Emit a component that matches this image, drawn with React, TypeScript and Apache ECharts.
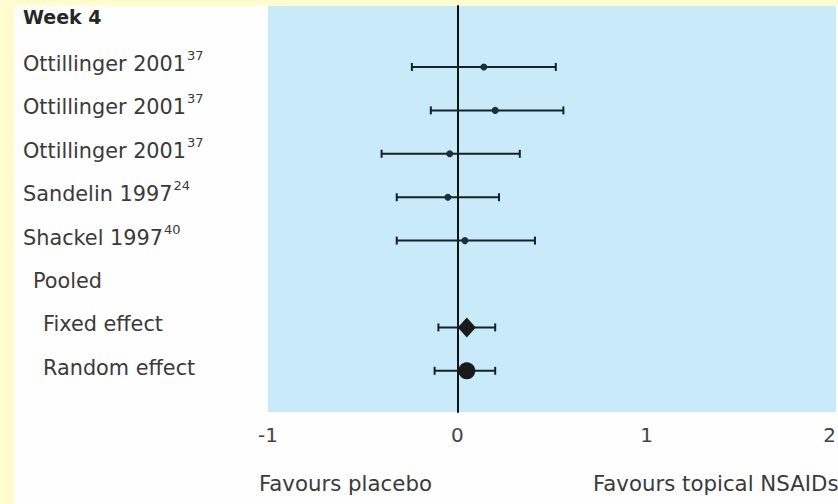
import React, { useEffect, useRef } from "react";
import * as echarts from "echarts";

const rowLabels = [
  "Week 4",
  "Ottillinger 2001",
  "Ottillinger 2001",
  "Ottillinger 2001",
  "Sandelin 1997",
  "Shackel 1997",
  "Pooled",
  "Fixed effect",
  "Random effect",
];
const rowRefs = ["", "37", "37", "37", "24", "40", "", "", ""];
const rowKinds = ["header", "study", "study", "study", "study", "study", "group", "sub", "sub"];

const estimates = [null, 0.14, 0.2, -0.04, -0.05, 0.04, null, 0.05, 0.05];
const lowerCI = [null, -0.24, -0.14, -0.4, -0.32, -0.32, null, -0.1, -0.12];
const upperCI = [null, 0.52, 0.56, 0.33, 0.22, 0.41, null, 0.2, 0.2];

const xTicks = [-1, 0, 1, 2];
const favoursLeft = "Favours placebo";
const favoursRight = "Favours topical NSAIDs";

const FONT = "'DejaVu Sans', 'Liberation Sans', sans-serif";
const TEXT = "#3a3a3a";

export default function App() {
  const ref = useRef<HTMLDivElement>(null);
  useEffect(() => {
    if (!ref.current) return;
    const chart = echarts.init(ref.current, undefined, { renderer: "svg" });

    const barData: any[] = [];
    const studyPts: any[] = [];
    const fixedPts: any[] = [];
    const randomPts: any[] = [];
    rowLabels.forEach((_, i) => {
      if (estimates[i] == null) return;
      barData.push([lowerCI[i], upperCI[i], i]);
      if (rowKinds[i] === "study") studyPts.push([estimates[i], i]);
      else if (rowLabels[i] === "Fixed effect") fixedPts.push([estimates[i], i]);
      else randomPts.push([estimates[i], i]);
    });

    const styleFor = (k: string) =>
      k === "header" ? "h" : k === "group" ? "g" : k === "sub" ? "f" : "s";

    const base = { fontFamily: FONT, fontSize: 20.8, color: TEXT, lineHeight: 22 };

    chart.setOption({
      animation: false,
      backgroundColor: "transparent",
      grid: [
        { left: 268, right: 2, top: 6, bottom: 92, show: true, backgroundColor: "#c8eaf9", borderWidth: 0, outerBoundsMode: "none", containLabel: false },
        { left: 268, right: 2, top: 1.9, height: 390.6, show: false, outerBoundsMode: "none", containLabel: false },
      ],
      xAxis: [
        {
          gridIndex: 0,
          type: "value",
          min: xTicks[0],
          max: xTicks[xTicks.length - 1],
          interval: 1,
          axisLine: { show: false },
          axisTick: { show: false },
          splitLine: { show: false },
          axisLabel: {
            show: true,
            margin: 13,
            fontSize: 20,
            fontFamily: FONT,
            color: "#444",
            showMaxLabel: true,
            showMinLabel: true,
            hideOverlap: false,
            alignMaxLabel: "right",
          },
        },
        {
          gridIndex: 1,
          type: "value",
          min: xTicks[0],
          max: xTicks[xTicks.length - 1],
          show: false,
        },
      ],
      yAxis: [
        {
          gridIndex: 0,
          type: "value",
          min: 0,
          max: 1,
          axisLabel: { show: false },
          axisTick: { show: false },
          splitLine: { show: false },
          axisLine: { show: true, onZero: true, lineStyle: { color: "#111", width: 2 } },
        },
        {
          gridIndex: 1,
          type: "category",
          inverse: true,
          data: rowLabels,
          axisLine: { show: false },
          axisTick: { show: false },
          splitLine: { show: false },
          axisLabel: {
            interval: 0,
            align: "left",
            margin: 245,
            padding: [0, 0, 6, 0],
            formatter: (_v: string, idx: number) => {
              const st = styleFor(rowKinds[idx]);
              const sup = rowRefs[idx] ? rowRefs[idx] : " ";
              return `{${st}|${rowLabels[idx]}}{sup|${sup}}`;
            },
            rich: {
              h: { ...base, fontSize: 19, fontWeight: "bold", color: "#262626", padding: [0, 0, 7, 0] },
              s: { ...base },
              g: { ...base, padding: [0, 0, 0, 10] },
              f: { ...base, padding: [0, 0, 0, 20] },
              sup: { fontFamily: FONT, fontSize: 13, color: TEXT, lineHeight: 22, padding: [0, 0, 17, 1] },
            },
          },
        },
      ],
      series: [
        {
          type: "custom",
          xAxisIndex: 1,
          yAxisIndex: 1,
          data: barData,
          encode: { x: [0, 1], y: 2 },
          renderItem: (params: any, api: any) => {
            const a = api.coord([api.value(0), api.value(2)]);
            const b = api.coord([api.value(1), api.value(2)]);
            const st = { stroke: "#14222a", lineWidth: 2 };
            const cap = 4;
            return {
              type: "group",
              children: [
                { type: "line", shape: { x1: a[0], y1: a[1], x2: b[0], y2: b[1] }, style: st },
                { type: "line", shape: { x1: a[0], y1: a[1] - cap, x2: a[0], y2: a[1] + cap }, style: st },
                { type: "line", shape: { x1: b[0], y1: b[1] - cap, x2: b[0], y2: b[1] + cap }, style: st },
              ],
            };
          },
          z: 3,
        },
        {
          type: "scatter",
          xAxisIndex: 1,
          yAxisIndex: 1,
          data: studyPts,
          symbol: "circle",
          symbolSize: 7,
          itemStyle: { color: "#1c3038", opacity: 1 },
          z: 4,
        },
        {
          type: "scatter",
          xAxisIndex: 1,
          yAxisIndex: 1,
          data: fixedPts,
          symbol: "diamond",
          symbolSize: [18, 20],
          itemStyle: { color: "#1a1a1a", opacity: 1 },
          z: 4,
        },
        {
          type: "scatter",
          xAxisIndex: 1,
          yAxisIndex: 1,
          data: randomPts,
          symbol: "circle",
          symbolSize: 17,
          itemStyle: { color: "#1a1a1a", opacity: 1 },
          z: 4,
        },
      ],
      graphic: [
        { type: "text", left: 259, top: 473, z: 100, style: { text: favoursLeft, font: `21.3px ${FONT}`, fill: TEXT } },
        { type: "text", left: 593, top: 473, z: 100, style: { text: favoursRight, font: `21.3px ${FONT}`, fill: TEXT } },
      ],
    });
    return () => chart.dispose();
  }, []);

  return (
    <div style={{ position: "fixed", left: 0, top: 0, width: 838, height: 504, background: "#fffcd0", overflow: "hidden" }}>
      <div style={{ position: "absolute", left: 14, top: 6, width: 824, height: 498, background: "#fefefe" }} />
      <div ref={ref} style={{ position: "absolute", left: 0, top: 0, width: 838, height: 504 }} />
    </div>
  );
}
